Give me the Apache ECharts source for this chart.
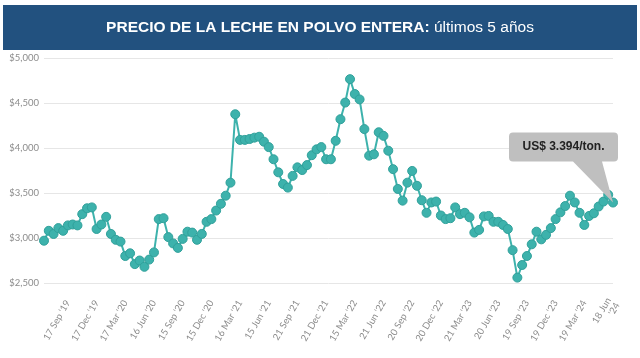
<!DOCTYPE html>
<html>
<head>
<meta charset="utf-8">
<script src="https://cdn.jsdelivr.net/npm/echarts@6/dist/echarts.min.js"></script>
<style>
html,body{margin:0;padding:0;background:#fff;}
#c{width:640px;height:358px;}
</style>
</head>
<body>
<div id="c"></div>
<script>
// GDT auction dates (categories)
const dates = [
"2 Jul '19","16 Jul '19","6 Aug '19","20 Aug '19","3 Sep '19","17 Sep '19","1 Oct '19","15 Oct '19","5 Nov '19","19 Nov '19","3 Dec '19","17 Dec '19",
"7 Jan '20","21 Jan '20","4 Feb '20","18 Feb '20","3 Mar '20","17 Mar '20","7 Apr '20","21 Apr '20","5 May '20","19 May '20","2 Jun '20","16 Jun '20",
"7 Jul '20","21 Jul '20","4 Aug '20","18 Aug '20","1 Sep '20","15 Sep '20","6 Oct '20","20 Oct '20","3 Nov '20","17 Nov '20","1 Dec '20","15 Dec '20",
"5 Jan '21","19 Jan '21","2 Feb '21","16 Feb '21","2 Mar '21","16 Mar '21","6 Apr '21","20 Apr '21","4 May '21","18 May '21","1 Jun '21","15 Jun '21",
"6 Jul '21","20 Jul '21","3 Aug '21","17 Aug '21","7 Sep '21","21 Sep '21","5 Oct '21","19 Oct '21","2 Nov '21","16 Nov '21","7 Dec '21","21 Dec '21",
"4 Jan '22","18 Jan '22","1 Feb '22","15 Feb '22","1 Mar '22","15 Mar '22","5 Apr '22","19 Apr '22","3 May '22","17 May '22","7 Jun '22","21 Jun '22",
"5 Jul '22","19 Jul '22","2 Aug '22","16 Aug '22","6 Sep '22","20 Sep '22","4 Oct '22","18 Oct '22","1 Nov '22","15 Nov '22","6 Dec '22","20 Dec '22",
"3 Jan '23","17 Jan '23","7 Feb '23","21 Feb '23","7 Mar '23","21 Mar '23","4 Apr '23","18 Apr '23","2 May '23","16 May '23","6 Jun '23","20 Jun '23",
"4 Jul '23","18 Jul '23","1 Aug '23","15 Aug '23","5 Sep '23","19 Sep '23","3 Oct '23","17 Oct '23","7 Nov '23","21 Nov '23","5 Dec '23","19 Dec '23",
"2 Jan '24","16 Jan '24","6 Feb '24","20 Feb '24","5 Mar '24","19 Mar '24","2 Apr '24","16 Apr '24","7 May '24","21 May '24","4 Jun '24","18 Jun '24"
];

// Whole milk powder price, US$/ton
const prices = [
2970,3080,3045,3110,3080,3140,3150,3140,3265,3330,3340,3100,
3150,3235,3045,2980,2960,2800,2830,2710,2750,2680,2760,2840,
3210,3220,3010,2940,2890,2990,3070,3060,2980,3045,3180,3210,
3305,3380,3470,3615,4375,4090,4090,4100,4115,4125,4070,4010,
3875,3730,3600,3560,3690,3785,3755,3810,3920,3985,4010,3875,
3875,4080,4320,4505,4765,4600,4540,4210,3915,3930,4175,4135,
3970,3765,3545,3415,3615,3745,3580,3420,3280,3395,3405,3250,
3210,3220,3340,3265,3280,3230,3060,3090,3240,3245,3180,3180,
3145,3100,2865,2560,2700,2800,2930,3070,2985,3035,3110,3210,
3285,3355,3470,3395,3280,3145,3245,3275,3350,3405,3480,3394
];

// Tick labels shown on the x axis
const tickLabels = [
"17 Sep '19","17 Dec '19","17 Mar '20","16 Jun '20","15 Sep '20","15 Dec '20",
"16 Mar '21","15 Jun '21","21 Sep '21","21 Dec '21","15 Mar '22","21 Jun '22",
"20 Sep '22","20 Dec '22","21 Mar '23","20 Jun '23","19 Sep '23","19 Dec '23",
"19 Mar '24","18 Jun '24"
];

const yTicks = { min: 2500, max: 5000, step: 500 };
const titleBold = "PRECIO DE LA LECHE EN POLVO ENTERA:";
const titleNormal = " últimos 5 años";
const calloutText = "US$ 3.394/ton.";

const chart = echarts.init(document.getElementById('c'), null, {renderer: 'canvas'});
const lineColor = '#3db2ac';
const lastIdx = prices.length - 1;

chart.setOption({
  animation: false,
  backgroundColor: '#ffffff',
  graphic: [{
    type: 'rect', left: 3, top: 5, z: 0,
    shape: { width: 634, height: 45 },
    style: { fill: '#22517f' }
  }],
  title: {
    text: '{b|' + titleBold + '}{n|' + titleNormal + '}',
    left: 'center', top: 15,
    textStyle: {
      rich: {
        b: { fontFamily: 'Liberation Sans', fontWeight: 'bold', fontSize: 15.5, color: '#ffffff' },
        n: { fontFamily: 'Liberation Sans', fontWeight: 'normal', fontSize: 15.5, color: '#ffffff' }
      }
    }
  },
  grid: { left: 44, right: 27, top: 58, bottom: 75, containLabel: false },
  xAxis: {
    type: 'category',
    data: dates,
    boundaryGap: false,
    axisLine: { show: false },
    axisTick: { show: false },
    axisLabel: {
      interval: (i, v) => tickLabels.indexOf(v) >= 0,
      rotate: 60,
      margin: 18,
      fontFamily: 'Lato',
      fontSize: 9.5,
      color: '#8c8c8c',
      formatter: v => (v === dates[lastIdx] ? v.replace(" '", "\n'") : v)
    }
  },
  yAxis: {
    type: 'value',
    min: yTicks.min, max: yTicks.max, interval: yTicks.step,
    axisLine: { show: false },
    axisTick: { show: false },
    splitLine: { lineStyle: { color: '#e6e6e6', width: 1 } },
    axisLabel: {
      margin: 5,
      fontFamily: 'Lato',
      fontSize: 9.5,
      color: '#8c8c8c',
      formatter: v => '$' + v.toLocaleString('en-US')
    }
  },
  series: [{
    type: 'line',
    data: prices,
    symbol: 'circle',
    symbolSize: 9,
    showAllSymbol: true,
    lineStyle: { color: lineColor, width: 2 },
    itemStyle: { color: lineColor, borderColor: '#31a19b', borderWidth: 1 },
    markPoint: {
      silent: true,
      symbol: 'path://M4,0 L105,0 Q109,0 109,4 L109,25 Q109,29 105,29 L93,29 L104,70 L64,29 L4,29 Q0,29 0,25 L0,4 Q0,0 4,0 Z',
      symbolSize: [109, 70],
      symbolOffset: [-49.5, -35],
      itemStyle: { color: '#bfbfbf' },
      label: {
        show: true,
        position: 'inside',
        offset: [0, -20.5],
        formatter: calloutText,
        fontFamily: 'Liberation Sans',
        fontWeight: 'bold',
        fontSize: 12,
        color: '#222222'
      },
      data: [{ coord: [lastIdx, prices[lastIdx]] }]
    }
  }]
});
</script>
</body>
</html>
